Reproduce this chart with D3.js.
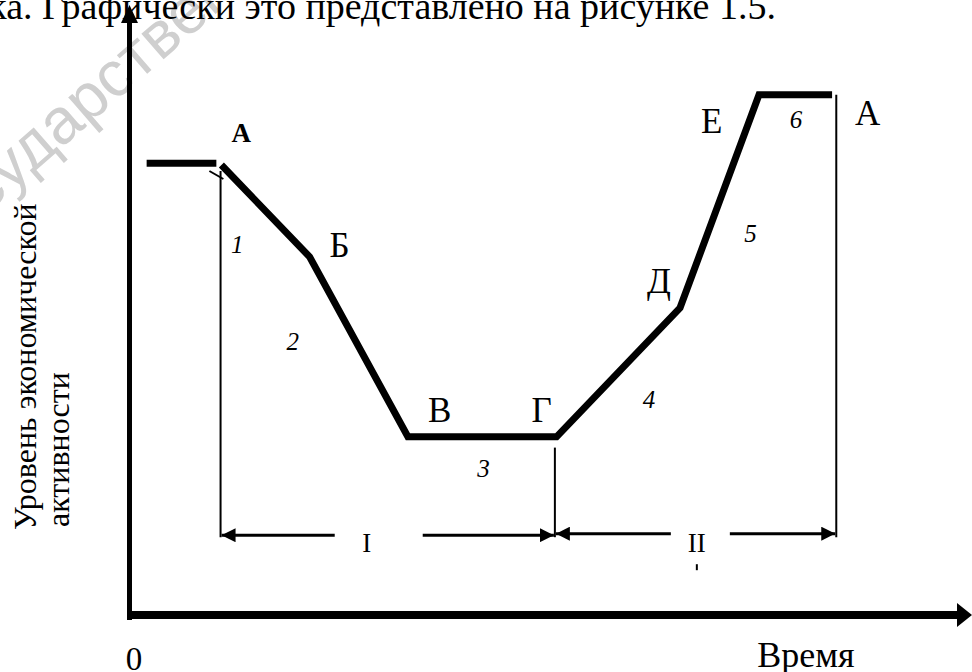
<!DOCTYPE html>
<html>
<head>
<meta charset="utf-8">
<script src="https://cdn.jsdelivr.net/npm/d3@7"></script>
<style>
  body { margin: 0; background: #fff; }
  svg { display: block; font-family: "Liberation Serif", "Times New Roman", serif; }
</style>
</head>
<body>
<svg id="chart" width="972" height="672"></svg>
<script>
// business cycle: time vs level of economic activity (arbitrary units 0..100)
const preTimes = [2.1, 10.4];
const preLevel = 75.3;
const cycleTimes = [11, 21.5, 33.2, 50.9, 65.6, 75, 83.7];
const cycleLevels = [75, 59.7, 29.7, 29.7, 51.2, 86.7, 86.7];
const pointLabels = ['А', 'Б', 'В', 'Г', 'Д', 'Е', 'А'];

const phaseNumbers = ['1', '2', '3', '4', '5', '6'];
const phaseNumTimes = [12.9, 19.5, 42.2, 61.9, 74.0, 79.4];
const phaseNumLevels = [60.3, 44.2, 23.0, 34.5, 62.2, 81.2];

const stageLabels = ['I', 'II'];
const stageBounds = [10.9, 50.7, 84.2];
const stageLabelTimes = [28.3, 67.6];
const stageLevel = 13.3;

const svg = d3.select('#chart');
const W = 972, H = 672;

const x = d3.scaleLinear().domain([0, 100]).range([129, 969]);
const y = d3.scaleLinear().domain([0, 100]).range([615, 15]);

svg.append('rect').attr('width', W).attr('height', H).attr('fill', '#fff');

// watermark (scan artefact)
svg.append('text')
  .attr('transform', 'translate(-58,252) rotate(-41)')
  .attr('font-family', '"Liberation Sans", Arial, sans-serif')
  .attr('font-size', 64)
  .attr('fill', '#cfcfcf')
  .text('государственный');

// page text cut at the top
svg.append('text')
  .attr('x', 776).attr('y', 19)
  .attr('text-anchor', 'end')
  .attr('font-size', 38)
  .text('ка. Графически это представлено на рисунке 1.5.');

// arrowhead markers
const defs = svg.append('defs');
defs.append('marker')
  .attr('id', 'dim-arrow')
  .attr('viewBox', '0 -7 14 14')
  .attr('refX', 14).attr('refY', 0)
  .attr('markerUnits', 'userSpaceOnUse')
  .attr('markerWidth', 14).attr('markerHeight', 14)
  .attr('orient', 'auto')
  .append('path').attr('d', 'M0,-7L14,0L0,7Z').attr('fill', '#000');

// axes
svg.append('line')
  .attr('x1', x(0) + 0.5).attr('x2', x(0) + 0.5)
  .attr('y1', y(0) + 5).attr('y2', 22)
  .attr('stroke', '#000').attr('stroke-width', 5);
svg.append('path')
  .attr('d', `M${x(0) - 8},23L${x(0) + 0.5},5L${x(0) + 9},23Z`)
  .attr('fill', '#000');

svg.append('line')
  .attr('x1', x(0) - 2).attr('x2', 958)
  .attr('y1', y(0)).attr('y2', y(0))
  .attr('stroke', '#000').attr('stroke-width', 8);
svg.append('path')
  .attr('d', `M957,${y(0) - 12}L972,${y(0)}L957,${y(0) + 12}Z`)
  .attr('fill', '#000');

// axis titles
svg.append('text')
  .attr('x', 134).attr('y', 670)
  .attr('text-anchor', 'middle')
  .attr('font-size', 33)
  .text('0');
svg.append('text')
  .attr('x', 806).attr('y', 667)
  .attr('text-anchor', 'middle')
  .attr('font-size', 36)
  .text('Время');

const yTitle = svg.append('text')
  .attr('transform', 'translate(36,530) rotate(-90)')
  .attr('font-size', 32);
yTitle.append('tspan').attr('x', 0).attr('dy', 0).text('Уровень экономической');
yTitle.append('tspan').attr('x', 3).attr('dy', 33).text('активности');

// thin guide lines
const guideTops = [cycleLevels[0] - 1, cycleLevels[3] - 1.8, cycleLevels[6]];
stageBounds.forEach((t, i) => {
  svg.append('line')
    .attr('x1', x(t)).attr('x2', x(t))
    .attr('y1', y(guideTops[i])).attr('y2', y(stageLevel) + 2)
    .attr('stroke', '#000').attr('stroke-width', 2);
});
// small tick at point A
svg.append('line')
  .attr('x1', x(cycleTimes[0]) - 12).attr('y1', y(cycleLevels[0]) + 6)
  .attr('x2', x(cycleTimes[0]) + 2).attr('y2', y(cycleLevels[0]) + 14)
  .attr('stroke', '#000').attr('stroke-width', 2);

// dimension lines for stages I and II
const gaps = [[-32, 56], [-26, 33]];
stageLabels.forEach((lab, i) => {
  const x0 = x(stageBounds[i]) + 1, x1 = x(stageBounds[i + 1]) - 1;
  const lx = x(stageLabelTimes[i]);
  const yy = y(stageLevel) - i * 1.5;
  svg.append('line')
    .attr('x1', lx + gaps[i][0]).attr('x2', x0)
    .attr('y1', yy).attr('y2', yy)
    .attr('stroke', '#000').attr('stroke-width', 3)
    .attr('marker-end', 'url(#dim-arrow)');
  svg.append('line')
    .attr('x1', lx + gaps[i][1]).attr('x2', x1)
    .attr('y1', yy).attr('y2', yy)
    .attr('stroke', '#000').attr('stroke-width', 3)
    .attr('marker-end', 'url(#dim-arrow)');
  svg.append('text')
    .attr('x', lx).attr('y', y(stageLevel) + 17)
    .attr('text-anchor', 'middle')
    .attr('font-size', 27)
    .text(lab);
});
// tiny scan speck under II
svg.append('line')
  .attr('x1', x(stageLabelTimes[1])).attr('x2', x(stageLabelTimes[1]))
  .attr('y1', y(stageLevel) + 29).attr('y2', y(stageLevel) + 35)
  .attr('stroke', '#000').attr('stroke-width', 2);

// the cycle curve
const line = d3.line().x(d => x(d[0])).y(d => y(d[1]));
svg.append('path')
  .attr('d', line(preTimes.map(t => [t, preLevel])))
  .attr('fill', 'none').attr('stroke', '#000').attr('stroke-width', 7);
svg.append('path')
  .attr('d', line(cycleTimes.map((t, i) => [t, cycleLevels[i]])))
  .attr('fill', 'none').attr('stroke', '#000').attr('stroke-width', 7)
  .attr('stroke-linejoin', 'miter');

// point letters
const labelOffsets = [[10, -23], [20, 0], [20, -15], [-25, -15], [-33, -15], [-58, 38], [23, 30]];
svg.selectAll('text.point').data(pointLabels)
  .enter().append('text')
    .attr('class', 'point')
    .attr('x', (d, i) => x(cycleTimes[i]) + labelOffsets[i][0])
    .attr('y', (d, i) => y(cycleLevels[i]) + labelOffsets[i][1])
    .attr('font-size', (d, i) => i === 0 ? 27 : 35)
    .attr('font-weight', (d, i) => i === 0 ? 'bold' : 'normal')
    .text(d => d);

// phase numbers
svg.selectAll('text.phase').data(phaseNumbers)
  .enter().append('text')
    .attr('class', 'phase')
    .attr('x', (d, i) => x(phaseNumTimes[i]))
    .attr('y', (d, i) => y(phaseNumLevels[i]))
    .attr('text-anchor', 'middle')
    .attr('font-size', 25)
    .attr('font-style', 'italic')
    .text(d => d);
</script>
</body>
</html>
